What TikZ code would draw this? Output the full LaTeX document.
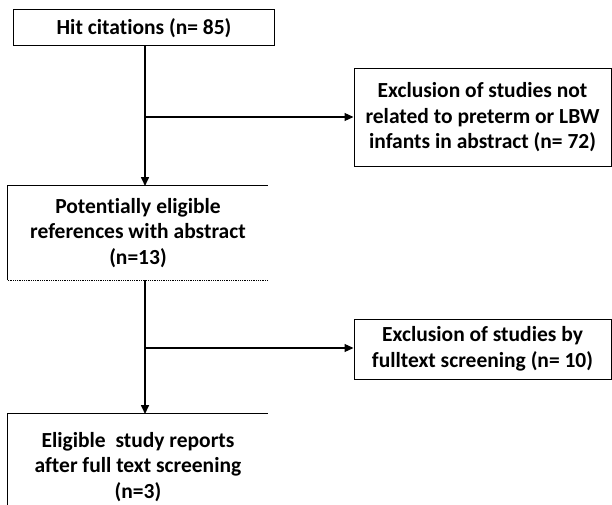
\documentclass[tikz,border=0pt]{standalone}
\usepackage{fontspec}
\setmainfont{Carlito}[Ligatures=NoCommon]
\usetikzlibrary{arrows.meta}
\begin{document}
\begin{tikzpicture}[x=1pt,y=-1pt,
  txt/.style={font=\bfseries\fontsize{21.5}{25.5}\selectfont, align=center, inner sep=0pt},
  boxed/.style={txt, draw, line width=1pt, rectangle},
  arr/.style={-{Triangle[width=8pt,length=9pt]}, line width=1.6pt},
  brn/.style={-{Triangle[width=8pt,length=9pt]}, line width=1.1pt}]
\useasboundingbox (0,0) rectangle (612,505);
\node[boxed, minimum width=261pt, minimum height=36pt] (hit) at (144,28) {Hit citations (n= 85)};
\node[boxed, minimum width=257pt, minimum height=97pt] (ex1) at (482.5,117.5) {Exclusion of studies not\\related to preterm or LBW\\infants in abstract (n= 72)};
\node[txt, minimum width=260pt, minimum height=94pt] (pot) at (138,233) {Potentially eligible\\references with abstract\\(n=13)};
\node[boxed, minimum width=257pt, minimum height=60pt] (ex2) at (482.5,349) {Exclusion of studies by\\fulltext screening (n= 10)};
\node[txt, minimum width=260pt, minimum height=106pt] (eli) at (138,467) {Eligible\ \ study reports\\after full text screening\\(n=3)};
% partial borders
\draw[line width=1pt] (pot.south west) -- (pot.north west) -- (pot.north east);
\draw[line width=0.8pt, densely dotted] (pot.south west) -- (pot.south east);
\draw[line width=1pt] (eli.south west) -- (eli.north west) -- (eli.north east);
% connectors
\coordinate (b1) at (145,117);
\coordinate (t3) at (145,186);
\coordinate (s3) at (145,280);
\coordinate (b2) at (145,348);
\coordinate (t5) at (145,414);
\draw[arr] (hit.south -| b1) -- (t3);
\draw[brn] (b1) -- (ex1.west |- b1);
\draw[arr] (s3) -- (t5);
\draw[brn] (b2) -- (ex2.west |- b2);
\end{tikzpicture}
\end{document}
